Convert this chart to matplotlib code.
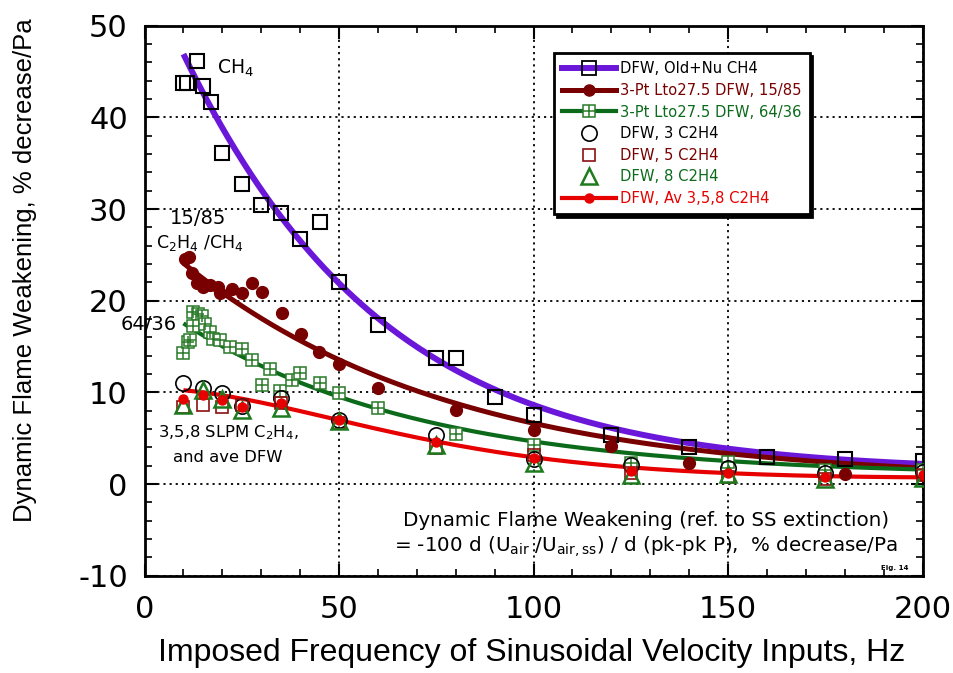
import numpy as np
import matplotlib
matplotlib.use('Agg')
import matplotlib.pyplot as plt
from matplotlib.lines import Line2D
from matplotlib.legend_handler import HandlerTuple
from matplotlib.ticker import MultipleLocator

plt.rcParams['font.family'] = ['DejaVu Sans']
plt.rcParams['axes.unicode_minus'] = False

# ---------------- data ----------------
ch4_x = [10, 11, 13.5, 15, 17, 20, 25, 30, 35, 40, 45, 50, 60, 75, 80, 90, 100, 120, 140, 160, 180, 200]
ch4_y = [43.8, 43.8, 46.2, 43.4, 41.7, 36.1, 32.7, 30.4, 29.6, 26.7, 28.6, 22.0, 17.4, 13.7, 13.7, 9.5,
         7.5, 5.3, 4.0, 3.0, 2.7, 2.5]

r1585_x = [10.4, 11.4, 12.1, 13.4, 15.1, 16.8, 19.0, 19.4, 22.4, 25.0, 27.6, 30.1, 35.3, 40.2, 44.9,
           50.1, 60.0, 80.0, 100, 120, 140, 180, 200]
r1585_y = [24.6, 24.8, 23.0, 21.9, 21.5, 21.7, 21.5, 20.8, 21.3, 20.8, 21.9, 21.0, 18.7, 16.4, 14.4,
           13.1, 10.5, 8.1, 5.9, 4.1, 2.3, 1.1, 1.0]

r6436_x = [10.0, 11.2, 11.7, 12.5, 13.8, 14.7, 12.5, 15.6, 16.8, 17.7, 19.4, 22.0, 25.0, 27.6, 32.3,
           30.1, 34.8, 37.8, 40.0, 45.1, 50.0, 60, 80, 100, 125, 150, 175, 200]
r6436_y = [14.3, 15.5, 15.7, 18.8, 18.6, 18.3, 17.2, 17.5, 16.6, 15.8, 15.7, 15.0, 14.7, 13.5, 12.6,
           10.8, 10.1, 11.3, 12.1, 11.0, 9.9, 8.3, 5.5, 4.3, 2.3, 2.4, 1.5, 1.5]

c2h4_x = [10, 15, 20, 25, 35, 50, 75, 100, 125, 150, 175, 200]
c2h4_3_y = [11.0, 10.5, 9.9, 8.5, 9.4, 7.0, 5.3, 2.7, 2.1, 1.7, 1.2, 1.3]
c2h4_5_y = [8.4, 8.6, 8.4, 8.6, 8.8, 6.7, 3.9, 3.2, 1.25, 0.8, 0.6, 1.0]
c2h4_8_y = [8.6, 10.3, 9.3, 8.1, 8.3, 6.9, 4.3, 2.3, 1.0, 1.1, 0.6, 0.7]
c2h4_av_y = [9.3, 9.7, 9.2, 8.4, 8.8, 7.0, 4.6, 2.8, 1.45, 1.2, 0.8, 1.0]

# fitted-curve values (curve height at given frequencies)
ch4_fit_x = [10, 15, 20, 30, 40, 50, 75, 100, 125, 150, 175, 200]
ch4_fit_y = [47.4, 42.6, 38.6, 31.9, 26.4, 22.0, 13.9, 8.5, 5.6, 3.9, 2.8, 2.2]
r1585_fit_x = [10, 20, 30, 40, 50, 60, 80, 100, 125, 150, 175, 200]
r1585_fit_y = [23.9, 20.9, 18.2, 15.9, 13.6, 11.5, 8.7, 6.7, 4.7, 3.3, 2.4, 1.75]
r6436_fit_x = [10, 20, 30, 40, 50, 60, 80, 100, 125, 150, 175, 200]
r6436_fit_y = [17.7, 15.0, 12.8, 11.0, 9.5, 8.2, 6.1, 4.7, 3.4, 2.5, 1.9, 1.6]
av_fit_x = [10, 20, 35, 50, 75, 100, 125, 150, 175, 200]
av_fit_y = [10.4, 9.5, 8.4, 7.0, 4.6, 3.0, 1.8, 1.17, 0.87, 0.73]

legend_labels = ['DFW, Old+Nu CH4', '3-Pt Lto27.5 DFW, 15/85', '3-Pt Lto27.5 DFW, 64/36',
                 'DFW, 3 C2H4', 'DFW, 5 C2H4', 'DFW, 8 C2H4', 'DFW, Av 3,5,8 C2H4']

x_ticks = [0, 50, 100, 150, 200]
y_ticks = [-10, 0, 10, 20, 30, 40, 50]

# ---------------- styles ----------------
PURPLE = '#6B17D9'
DARKRED = '#780000'
GREEN = '#0B6B1A'
GREEN_MK = '#2A7A2A'
RED = '#E60000'
SQ5 = '#8B1010'
TRI8 = '#1E7A1E'


def smooth_curve(x, y, deg=3):
    c = np.polyfit(x, np.log(y), deg)
    xs = np.linspace(min(x), max(x), 300)
    return xs, np.exp(np.polyval(c, xs))


fig = plt.figure(figsize=(9.54, 6.73), dpi=100)
ax = fig.add_axes([0.1515, 0.1446, 0.8155, 0.8172])
ax.set_xlim(0, 200)
ax.set_ylim(-10, 50)
ax.set_xticks(x_ticks)
ax.set_yticks(y_ticks)
ax.xaxis.set_minor_locator(MultipleLocator(10))
ax.yaxis.set_minor_locator(MultipleLocator(2))
ax.grid(True, which='major', color='k', linestyle=(0, (1.2, 2.2)), linewidth=1.3, zorder=0)
ax.tick_params(which='both', direction='in', top=True, right=True)
ax.tick_params(which='major', length=9, width=1.5, labelsize=22)
ax.tick_params(axis='x', which='major', pad=14)
ax.tick_params(axis='y', which='major', pad=12)
ax.tick_params(which='minor', length=5, width=1.2)
for s in ax.spines.values():
    s.set_linewidth(2)

# fit curves
for xd, yd, col, lw in [(ch4_fit_x, ch4_fit_y, PURPLE, 4.3), (r1585_fit_x, r1585_fit_y, DARKRED, 3.6),
                        (r6436_fit_x, r6436_fit_y, GREEN, 3.0), (av_fit_x, av_fit_y, RED, 3.0)]:
    xs, ys = smooth_curve(xd, yd)
    ax.plot(xs, ys, color=col, lw=lw, zorder=2, solid_capstyle='butt')

# markers
ax.plot(ch4_x, ch4_y, ls='none', marker='s', ms=10.5, mfc='none', mec='k', mew=1.5, zorder=4)
ax.plot(r1585_x, r1585_y, ls='none', marker='o', ms=8.5, mfc=DARKRED, mec=DARKRED, zorder=4)
ax.plot(r6436_x, r6436_y, ls='none', marker='s', ms=8.5, mfc='white', mec=GREEN_MK, mew=1.1, zorder=4)
ax.plot(r6436_x, r6436_y, ls='none', marker='+', ms=8.5, mec=GREEN_MK, mew=1.1, zorder=4)
ax.plot(c2h4_x, c2h4_3_y, ls='none', marker='o', ms=11, mfc='none', mec='k', mew=1.2, zorder=4)
ax.plot(c2h4_x, c2h4_5_y, ls='none', marker='s', ms=8.5, mfc='none', mec=SQ5, mew=1.2, zorder=4)
ax.plot(c2h4_x, c2h4_8_y, ls='none', marker='^', ms=12, mfc='none', mec=TRI8, mew=1.8, zorder=4)
ax.plot(c2h4_x, c2h4_av_y, ls='none', marker='o', ms=6.5, mfc=RED, mec=RED, zorder=5)

# legend
handles = [
    Line2D([], [], color=PURPLE, lw=4.3, marker='s', ms=10, mfc='none', mec='k', mew=1.3),
    Line2D([], [], color=DARKRED, lw=3.6, marker='o', ms=8, mfc=DARKRED, mec=DARKRED),
    (Line2D([], [], color=GREEN, lw=3.0, marker='s', ms=8, mfc='white', mec=GREEN_MK, mew=1.1),
     Line2D([], [], ls='none', marker='+', ms=8, mec=GREEN_MK, mew=1.1)),
    Line2D([], [], ls='none', marker='o', ms=11, mfc='none', mec='k', mew=1.2),
    Line2D([], [], ls='none', marker='s', ms=8.5, mfc='none', mec=SQ5, mew=1.2),
    Line2D([], [], ls='none', marker='^', ms=12, mfc='none', mec=TRI8, mew=1.8),
    Line2D([], [], color=RED, lw=3.0, marker='o', ms=6.5, mfc=RED, mec=RED),
]
leg = ax.legend(handles, legend_labels, loc='upper left', bbox_to_anchor=(0.526, 0.950),
                borderaxespad=0, frameon=True, fancybox=False, shadow={'color': 'k', 'alpha': 1},
                edgecolor='k', framealpha=1, handlelength=3.7, handletextpad=0.25,
                labelspacing=0.45, borderpad=0.55, fontsize=10.6,
                labelcolor=['k', DARKRED, GREEN, 'k', DARKRED, GREEN, RED],
                handler_map={tuple: HandlerTuple(ndivide=1)})
leg.get_frame().set_linewidth(2)
leg.set_zorder(10)

# annotations
ax.text(18.6, 45.3, r'CH$_4$', fontsize=13.5, ha='left', va='center')
ax.text(13.75, 29.0, '15/85', fontsize=14, ha='center', va='center')
ax.text(14.3, 26.3, r'C$_2$H$_4$ /CH$_4$', fontsize=12.5, ha='center', va='center')
ax.text(8.4, 17.4, '64/36', fontsize=14, ha='right', va='center', clip_on=False)
ax.text(3.5, 5.6, r'3,5,8 SLPM C$_2$H$_4$,', fontsize=11.8, ha='left', va='center')
ax.text(7.3, 2.9, 'and ave DFW', fontsize=11.8, ha='left', va='center')
ax.text(128.9, -4.0, 'Dynamic Flame Weakening (ref. to SS extinction)', fontsize=14.3,
        ha='center', va='center')
ax.text(128.9, -6.8, r'= -100 d (U$_{\rm air}$ /U$_{\rm air,ss}$) / d (pk-pk P),  % decrease/Pa',
        fontsize=14.3, ha='center', va='center')
ax.text(196.5, -9.2, 'Fig. 14', fontsize=5, ha='right', va='center', fontweight='bold')

ax.set_xlabel('Imposed Frequency of Sinusoidal Velocity Inputs, Hz', fontsize=23,
              family=['Liberation Sans', 'DejaVu Sans'])
ax.set_ylabel('Dynamic Flame Weakening, % decrease/Pa', fontsize=18.5,
              family=['Liberation Sans', 'DejaVu Sans'])
ax.xaxis.set_label_coords(0.498, -0.113)
ax.yaxis.set_label_coords(-0.138, 0.556)

fig.savefig('out.png', dpi=100)
